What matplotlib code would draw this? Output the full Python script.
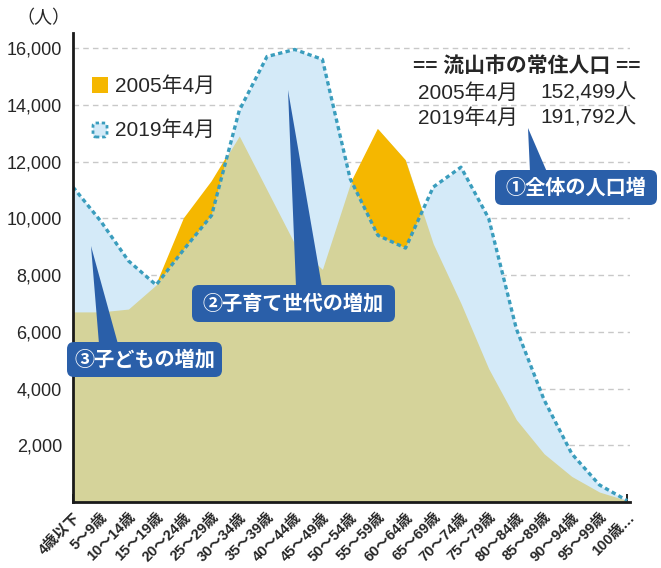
import numpy as np
import matplotlib
matplotlib.use("Agg")
import matplotlib.pyplot as plt
from matplotlib.patches import FancyBboxPatch, Polygon, Rectangle

plt.rcParams['font.family'] = ['Liberation Sans', 'Noto Sans CJK JP']

# 年齢階級
age_labels = ["4歳以下", "5〜9歳", "10〜14歳", "15〜19歳", "20〜24歳", "25〜29歳",
              "30〜34歳", "35〜39歳", "40〜44歳", "45〜49歳", "50〜54歳", "55〜59歳",
              "60〜64歳", "65〜69歳", "70〜74歳", "75〜79歳", "80〜84歳", "85〜89歳",
              "90〜94歳", "95〜99歳", "100歳…"]
# 人口 (人)
pop_2005 = np.array([6700, 6700, 6800, 7650, 10000, 11300, 12900, 11000, 9100, 8200,
                     11200, 13150, 12050, 9100, 7000, 4700, 2900, 1700, 900, 350, 50])
pop_2019 = np.array([11100, 9900, 8500, 7650, 8900, 10100, 13800, 15700, 15950, 15600,
                     11400, 9400, 8950, 11100, 11800, 10000, 6100, 3600, 1700, 600, 50])
y_ticks = [2000, 4000, 6000, 8000, 10000, 12000, 14000, 16000]

KHAKI = "#d5d39a"
YELLOW = "#f5b700"
LIGHT_BLUE = "#d4eaf8"
TEAL = "#3a9dbd"
CALLOUT = "#2a5fa9"
TEXT = "#262626"

W, H = 661, 568
fig = plt.figure(figsize=(W / 100, H / 100), dpi=100)
ax = fig.add_axes([73 / W, 1 - 502 / H, 557 / W, (502 - 33) / H])

x = np.arange(len(age_labels))
ax.fill_between(x, 0, pop_2019, color=LIGHT_BLUE, lw=0, zorder=1)
ax.fill_between(x, 0, pop_2005, color=KHAKI, lw=0, zorder=2)
ax.fill_between(x, pop_2019, pop_2005, where=pop_2005 >= pop_2019, interpolate=True,
                color=YELLOW, lw=0, zorder=3)
ax.plot(x, pop_2019, color=TEAL, lw=2.4, ls=(0, (1.3, 1.0)), zorder=4)

ax.set_xlim(0, 20.1)
ax.set_ylim(0, 16530)
ax.set_yticks(y_ticks)
ax.set_yticklabels([f"{v:,}" for v in y_ticks], fontsize=13, color=TEXT)
ax.tick_params(axis='y', length=0, pad=8)
ax.set_xticks(x)
ax.set_xticklabels(age_labels, fontsize=10.5, fontweight='bold', color=TEXT)
plt.setp(ax.get_xticklabels(), rotation=45, ha='right', rotation_mode='anchor')
ax.tick_params(axis='x', direction='in', length=6, width=1.4, color='#222222', pad=6)
for ytk in y_ticks:
    ax.axhline(ytk, color='#c8c8c8', lw=1, ls=(0, (4, 3)), zorder=0)

for s in ['top', 'right']:
    ax.spines[s].set_visible(False)
for s in ['left', 'bottom']:
    ax.spines[s].set_linewidth(2)
    ax.spines[s].set_color('#1a1a1a')
    ax.spines[s].set_zorder(6)


def P(px, py):
    return (px / 100, (H - py) / 100)


tr = fig.dpi_scale_trans

fig.text(*P(43, 18), "（人）", transform=tr, ha='center', va='center', fontsize=13, color=TEXT)

# 凡例
fig.add_artist(Rectangle(P(92, 93), 0.16, 0.16, transform=tr, fc=YELLOW, ec='none'))
fig.text(*P(115, 86), "2005年4月", transform=tr, ha='left', va='center', fontsize=15, color=TEXT)
fig.add_artist(FancyBboxPatch(P(93, 137), 0.14, 0.14, transform=tr,
                              boxstyle='round,pad=0,rounding_size=0.03',
                              fc=LIGHT_BLUE, ec=TEAL, lw=2, ls=(0, (1.2, 1))))
fig.text(*P(115, 130), "2019年4月", transform=tr, ha='left', va='center', fontsize=15, color=TEXT)

# 常住人口
fig.text(*P(527, 66), "== 流山市の常住人口 ==", transform=tr, ha='center', va='center',
         fontsize=15, fontweight='bold', color=TEXT)
fig.text(*P(418, 93), "2005年4月", transform=tr, ha='left', va='center', fontsize=15, color=TEXT)
fig.text(*P(637, 93), "152,499人", transform=tr, ha='right', va='center', fontsize=15, color=TEXT)
fig.text(*P(418, 118), "2019年4月", transform=tr, ha='left', va='center', fontsize=15, color=TEXT)
fig.text(*P(637, 118), "191,792人", transform=tr, ha='right', va='center', fontsize=15, color=TEXT)


def callout(x0, y0, x1, y1, tip, base, label):
    fig.add_artist(Polygon([P(*tip), P(*base[0]), P(*base[1])], closed=True,
                           transform=tr, fc=CALLOUT, ec='none', zorder=8))
    bx, by = P(x0, y1)
    fig.add_artist(FancyBboxPatch((bx, by), (x1 - x0) / 100, (y1 - y0) / 100, transform=tr,
                                  boxstyle='round,pad=0,rounding_size=0.07',
                                  fc=CALLOUT, ec='none', zorder=8))
    fig.text(*P((x0 + x1) / 2, (y0 + y1) / 2), label, transform=tr, ha='center', va='center',
             fontsize=14.5, fontweight='bold', color='white', zorder=9)


callout(495, 170, 657, 205, (528, 128), [(530, 172), (547, 172)], "①全体の人口増")
callout(192, 285, 395, 322, (288, 90), [(296, 287), (322, 287)], "②子育て世代の増加")
callout(67, 342, 222, 377, (91, 246), [(99, 344), (118, 344)], "③子どもの増加")

fig.savefig("out.png", dpi=100)
